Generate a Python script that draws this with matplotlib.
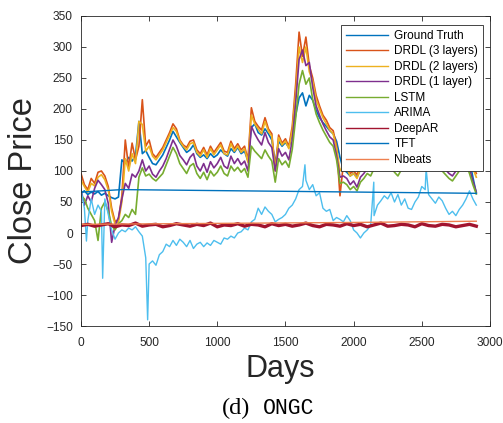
import matplotlib.pyplot as plt

plt.rcParams['font.family'] = 'Liberation Sans'

# common day grid (every 25 days) for the main series
days = list(range(0, 2901, 25))

ground_truth = [
    64, 68, 62, 66, 63, 67, 61, 64, 60, 57,
    55, 58, 118, 112, 122, 116, 125, 180, 128, 133,
    122, 112, 110, 118, 126, 138, 150, 164, 155, 146,
    138, 130, 134, 142, 128, 122, 126, 120, 128, 122,
    126, 134, 128, 124, 136, 130, 138, 128, 132, 116,
    170, 176, 162, 158, 168, 160, 150, 112, 148, 140,
    146, 138, 160, 190, 218, 226, 205, 222, 214, 198,
    186, 178, 172, 165, 160, 148, 122, 102, 98, 92,
    96, 90, 102, 108, 115, 112, 122, 135, 142, 138,
    130, 124, 116, 112, 120, 132, 140, 136, 145, 140,
    132, 138, 130, 126, 134, 125, 118, 112, 106, 100,
    110, 118, 125, 130, 118, 90, 64]

drdl3 = [
    96, 78, 70, 88, 80, 98, 100, 92, 75, 40,
    18, 22, 60, 150, 105, 145, 118, 140, 215, 140,
    150, 128, 122, 130, 138, 150, 162, 176, 168, 150,
    142, 138, 148, 150, 134, 128, 138, 126, 140, 130,
    138, 146, 132, 130, 148, 136, 144, 134, 140, 118,
    202, 180, 172, 166, 186, 168, 160, 102, 158, 145,
    152, 140, 172, 240, 324, 285, 316, 270, 250, 222,
    205, 190, 182, 170, 165, 140, 60, 112, 108, 96,
    100, 94, 108, 112, 118, 116, 126, 140, 150, 145,
    136, 130, 122, 118, 128, 138, 146, 140, 152, 146,
    138, 144, 136, 132, 140, 132, 124, 118, 112, 108,
    116, 122, 132, 136, 120, 110, 96]

drdl2 = [
    85, 75, 66, 80, 76, 90, 94, 86, 70, 35,
    14, 18, 50, 120, 100, 128, 112, 180, 175, 132,
    140, 124, 118, 126, 134, 146, 158, 170, 164, 148,
    140, 134, 144, 146, 130, 124, 134, 122, 136, 126,
    134, 142, 128, 126, 144, 132, 140, 130, 136, 114,
    190, 176, 168, 160, 180, 164, 156, 100, 154, 142,
    148, 136, 166, 225, 300, 275, 300, 260, 245, 215,
    200, 186, 176, 166, 160, 136, 100, 108, 104, 92,
    96, 88, 104, 108, 114, 112, 122, 136, 146, 140,
    132, 126, 118, 114, 124, 134, 142, 136, 148, 142,
    134, 140, 132, 128, 136, 128, 120, 114, 108, 104,
    112, 118, 128, 132, 116, 104, 90]

drdl1 = [
    70, 45, 60, 50, 72, 85, 78, 70, 48, -15,
    12, 25, 55, 80, 72, 95, 90, 100, 118, 100,
    108, 95, 90, 100, 108, 120, 135, 150, 140, 125,
    118, 110, 122, 128, 108, 100, 112, 98, 115, 105,
    112, 122, 108, 104, 124, 112, 120, 110, 116, 100,
    172, 160, 150, 142, 162, 146, 138, 100, 136, 124,
    130, 118, 150, 210, 280, 295, 270, 275, 235, 205,
    190, 176, 165, 155, 150, 125, 90, 92, 88, 78,
    84, 74, 90, 96, 104, 100, 112, 126, 134, 128,
    120, 114, 106, 100, 110, 122, 130, 126, 136, 130,
    122, 128, 120, 116, 124, 116, 108, 102, 96, 92,
    100, 108, 116, 120, 104, 84, 66]

lstm = [
    60, 55, 40, 30, 20, -12, 40, 50, 35, 12,
    5, 15, 20, 30, 25, 38, 30, 90, 105, 92,
    95, 88, 84, 90, 96, 110, 124, 138, 128, 112,
    104, 96, 108, 112, 96, 88, 98, 86, 100, 92,
    98, 108, 96, 92, 108, 100, 106, 98, 104, 90,
    140, 132, 126, 120, 134, 124, 116, 82, 120, 110,
    116, 106, 135, 185, 240, 262, 240, 250, 215, 192,
    178, 166, 156, 146, 140, 118, 80, 82, 78, 70,
    75, 68, 82, 88, 96, 92, 104, 118, 126, 120,
    112, 106, 98, 92, 102, 114, 122, 118, 128, 122,
    114, 120, 112, 108, 116, 108, 100, 94, 88, 84,
    92, 100, 108, 112, 96, 78, 63]

arima = [
    70, 40, 20, 55, 30, 45, 35, 55, 30, 5,
    -10, 0, 5, 2, 8, 5, 10, 2, -5, -40,
    -50, -45, -52, -35, -30, -18, -22, -12, -20, -10,
    -15, -22, -12, -25, -18, -15, -22, -16, -20, -12,
    -15, -18, -8, -10, -5, -8, 0, 2, 8, 5,
    18, 22, 40, 30, 42, 35, 30, 18, 22, 25,
    30, 40, 45, 55, 70, 75, 85, 70, 78, 60,
    65, 40, 35, 38, 20, 25, 22, 18, 28, 20,
    5, 0, -8, 0, 5, 12, 28, 45, 52, 60,
    55, 65, 50, 62, 45, 55, 40, 38, 50, 58,
    75, 70, 62, 55, 48, 58, 52, 40, 30, 35,
    28, 38, 45, 55, 68, 55, 45]
arima_spike_days = [40, 159, 489, 1643, 2148, 2532]
arima_spike_vals = [-13, -73, -140, 110, 82, 104]

# DeepAR every 50 days
deepar_days = list(range(0, 2901, 50))
deepar = [
    12, 14, 11, 13, 15, 10, 13, 12, 16, 11,
    13, 14, 10, 12, 15, 13, 11, 14, 12, 16,
    10, 13, 12, 15, 11, 14, 13, 10, 15, 12,
    14, 11, 13, 16, 12, 10, 14, 13, 11, 15,
    12, 14, 10, 13, 16, 11, 12, 14, 13, 10,
    15, 12, 11, 14, 13, 10, 12, 14, 11]

tft_days = [0, 300, 2900]
tft = [66, 70, 64]

nbeats_days = [0, 1000, 2000, 2900]
nbeats = [14, 15.5, 17, 19]

fig = plt.figure(figsize=(5.03, 4.23), dpi=100)
ax = fig.add_axes([0.161, 0.2293, 0.813, 0.7329])

arima_pts = sorted(zip(days + arima_spike_days, arima + arima_spike_vals))

lw = 1.2
ax.plot(days, ground_truth, color='#0072BD', lw=lw, label='Ground Truth')
ax.plot(days, drdl3, color='#D95319', lw=lw, label='DRDL (3 layers)')
ax.plot(days, drdl2, color='#EDB120', lw=lw, label='DRDL (2 layers)')
ax.plot(days, drdl1, color='#7E2F8E', lw=lw, label='DRDL (1 layer)')
ax.plot(days, lstm, color='#77AC30', lw=lw, label='LSTM')
ax.plot([p[0] for p in arima_pts], [p[1] for p in arima_pts],
        color='#4DBEEE', lw=1.0, label='ARIMA')
ax.plot(deepar_days, deepar, color='#A2142F', lw=2.4, label='DeepAR')
ax.plot(tft_days, tft, color='#0072BD', lw=1.0, label='TFT')
ax.plot(nbeats_days, nbeats, color='#EE8050', lw=1.0, label='Nbeats')

ax.set_xlim(0, 3000)
ax.set_ylim(-150, 350)
ax.set_xticks(range(0, 3001, 500))
ax.set_yticks(range(-150, 351, 50))
ax.tick_params(direction='in', top=True, right=True, labelsize=8.6,
               length=3.5, width=0.6, colors='#262626')
ax.tick_params(axis='x', pad=8)
ax.tick_params(axis='y', pad=6)
for s in ax.spines.values():
    s.set_color('#262626')
    s.set_linewidth(0.6)

# axis titles placed where they sit in the figure
fig.text(0.5577, 0.1087, 'Days', fontsize=22, color='#262626',
         ha='center', va='baseline')
fig.text(0.0467, 0.572, 'Close Price', fontsize=23.5, color='#262626',
         ha='center', va='center', rotation=90)

leg = ax.legend(loc='upper right', bbox_to_anchor=(0.983, 0.971),
                borderaxespad=0, fontsize=8.5, handlelength=3.6,
                labelspacing=0.3, fancybox=False, framealpha=1,
                edgecolor='#262626', borderpad=0.4, handletextpad=0.5)
leg.get_frame().set_linewidth(0.6)
for ln in leg.get_lines():
    ln.set_linewidth(1.0)

fig.text(0.497, 0.035, '(d)', family='Liberation Serif', fontsize=17.5,
         ha='right', va='center')
fig.text(0.523, 0.035, 'ONGC', family='Liberation Mono', fontsize=15.5,
         ha='left', va='center')

fig.savefig('out.png', dpi=100)
